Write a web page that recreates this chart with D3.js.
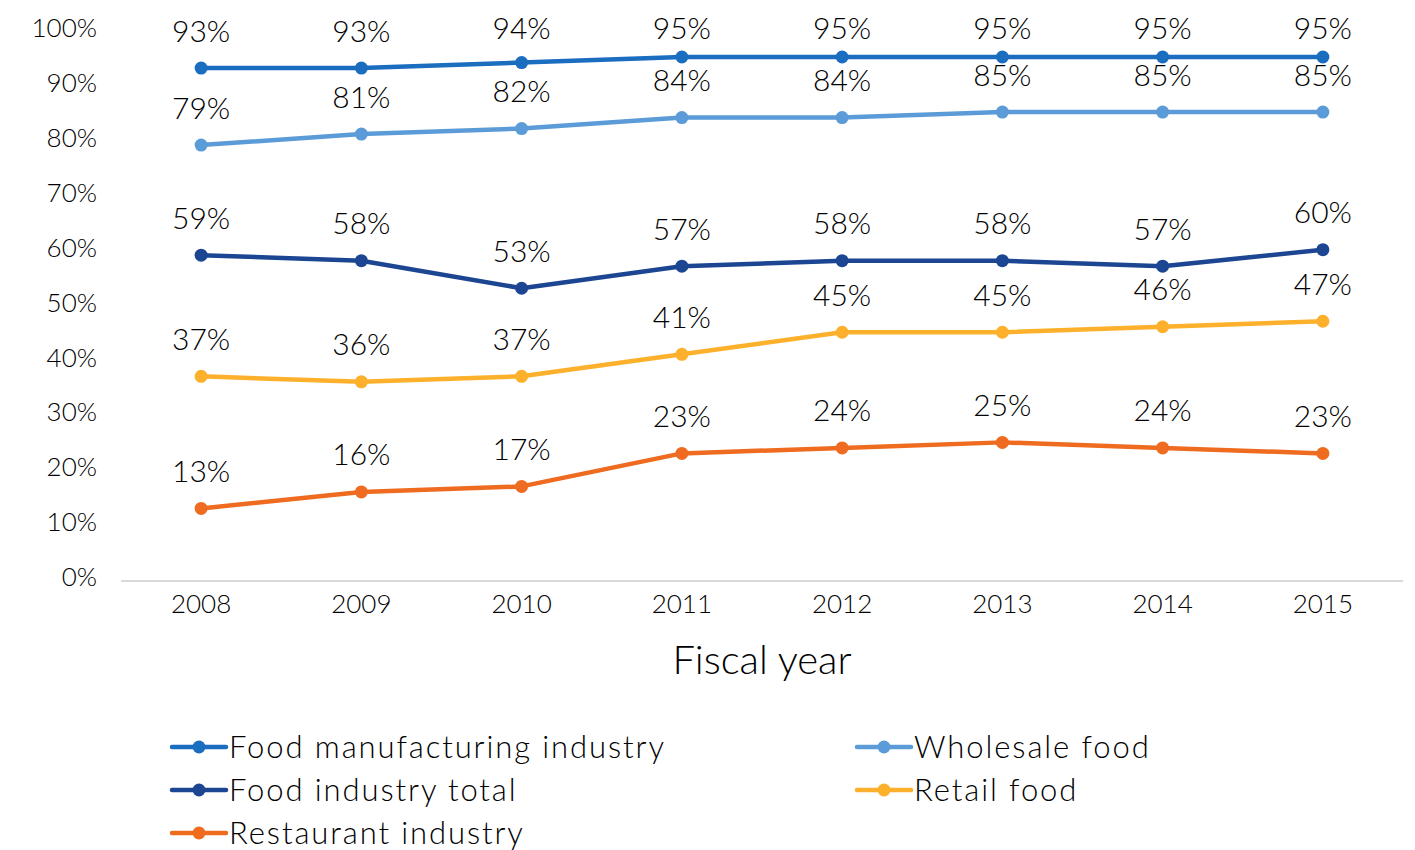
<!DOCTYPE html>
<html><head><meta charset="utf-8">
<script src="https://cdn.jsdelivr.net/npm/d3@7"></script>
<style>
html,body{margin:0;padding:0;background:#fff;}
svg{display:block;font-family:Lato,"Open Sans",sans-serif;font-weight:300;}
</style></head>
<body>
<svg id="chart" width="1415" height="850"></svg>
<script>
const years = ["2008","2009","2010","2011","2012","2013","2014","2015"];
const seriesNames = ["Food manufacturing industry","Wholesale food","Food industry total","Retail food","Restaurant industry"];
const foodManufacturing = [93,93,94,95,95,95,95,95];
const wholesaleFood = [79,81,82,84,84,85,85,85];
const foodIndustryTotal = [59,58,53,57,58,58,57,60];
const retailFood = [37,36,37,41,45,45,46,47];
const restaurantIndustry = [13,16,17,23,24,25,24,23];
const yTicks = [0,10,20,30,40,50,60,70,80,90,100];
const colors = ["#1a6dbf","#5b9bd8","#1c4592","#fcb02b","#ee6b1f"];

const series = [foodManufacturing, wholesaleFood, foodIndustryTotal, retailFood, restaurantIndustry]
  .map((vals,i)=>({name:seriesNames[i], values:vals, color:colors[i]}));

const svg = d3.select("#chart");
const x = d3.scaleBand().domain(years).range([121,1403]);
const y = d3.scaleLinear().domain([0,100]).range([580,29.5]);
const yLab = d3.scaleLinear().domain([0,100]).range([577,28]);
const cx = d => x(d) + x.bandwidth()/2;

// y tick labels
svg.append("g").selectAll("text").data(yTicks).join("text")
  .attr("x",97).attr("y",d=>yLab(d)).attr("dy","0.35em")
  .attr("text-anchor","end").attr("font-size",26).attr("fill","#000")
  .text(d=>d+"%");

// x axis line
svg.append("line").attr("x1",121).attr("x2",1403).attr("y1",581).attr("y2",581)
  .attr("stroke","#d9d9d9").attr("stroke-width",2);

svg.append("g").selectAll("text").data(years).join("text")
  .attr("x",d=>cx(d)).attr("y",604).attr("dy","0.35em")
  .attr("text-anchor","middle").attr("font-size",26).attr("fill","#000")
  .text(d=>d);

svg.append("text").attr("x",762).attr("y",660).attr("dy","0.35em")
  .attr("text-anchor","middle").attr("font-size",40).attr("fill","#000")
  .text("Fiscal year");

const line = d3.line().x((d,i)=>cx(years[i])).y(d=>y(d));

series.forEach(s=>{
  const g = svg.append("g");
  g.append("path").attr("d",line(s.values)).attr("fill","none")
    .attr("stroke",s.color).attr("stroke-width",4.5).attr("stroke-linejoin","round");
  g.selectAll("circle").data(s.values).join("circle")
    .attr("cx",(d,i)=>cx(years[i])).attr("cy",d=>y(d)).attr("r",6.5).attr("fill",s.color);
});
series.forEach(s=>{
  svg.append("g").selectAll("text").data(s.values).join("text")
    .attr("x",(d,i)=>cx(years[i])).attr("y",d=>Math.max(y(d)-37,28)).attr("dy","0.35em")
    .attr("text-anchor","middle").attr("font-size",30).attr("fill","#000")
    .text(d=>d+"%");
});

// legend
const legendItems = [
  {s:series[0], x:172, y:747},
  {s:series[1], x:857, y:747},
  {s:series[2], x:172, y:790},
  {s:series[3], x:857, y:790},
  {s:series[4], x:172, y:833}
];
legendItems.forEach(it=>{
  const g = svg.append("g").attr("transform",`translate(${it.x},${it.y})`);
  g.append("line").attr("x1",0).attr("x2",54).attr("y1",0).attr("y2",0)
    .attr("stroke",it.s.color).attr("stroke-width",4.5).attr("stroke-linecap","round");
  g.append("circle").attr("cx",27).attr("cy",0).attr("r",6.5).attr("fill",it.s.color);
  g.append("text").attr("x",57).attr("y",0).attr("dy","0.35em")
    .attr("font-size",31).attr("letter-spacing",1.9).attr("fill","#000").text(it.s.name);
});
</script>
</body></html>
